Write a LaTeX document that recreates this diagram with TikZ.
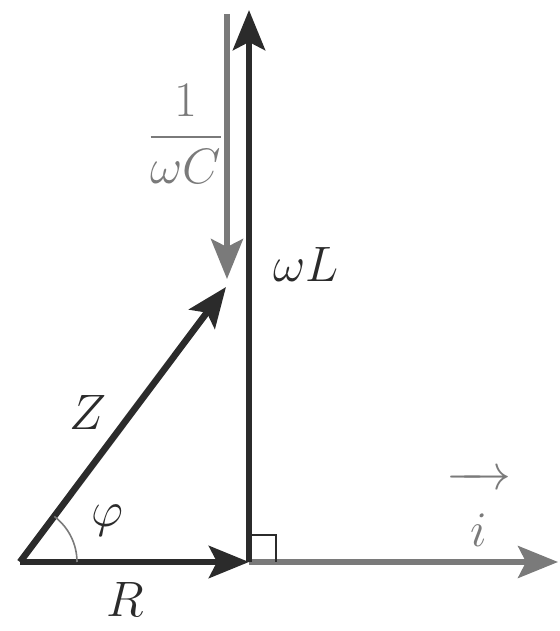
\documentclass[tikz,border=0pt]{standalone}
\usepackage{amsmath}
\usepackage{tikz}
\usetikzlibrary{arrows.meta}
\definecolor{phasorDark}{HTML}{2B2B2B}
\definecolor{phasorGray}{HTML}{7A7A7A}

\begin{document}
\begin{tikzpicture}[x=0.5pt, y=0.5pt,
    phasor/.style={line width=3.3pt, phasorDark,
        -{Stealth[length=20pt, width=16pt, inset=4pt]}},
    gphasor/.style={line width=2.6pt, phasorGray,
        -{Stealth[length=20pt, width=16pt, inset=4pt]}},
    lab/.style={font=\fontsize{30}{36}\selectfont, inner sep=0pt}]
    \useasboundingbox (0,0) rectangle (560,631);
    \coordinate (O) at (20,69);
    \coordinate (M) at (249,69);
    \coordinate (Ltip) at (249,621);
    \coordinate (Ctop) at (227,617);
    \coordinate (Cbot) at (227,352);
    \coordinate (Ztip) at (226,344);
    \coordinate (Itip) at (558,69);
    % current axis and the reactances
    \draw[gphasor] (M) -- (Itip);
    \draw[phasor] (M) -- (Ltip);
    \draw[gphasor] (Ctop) -- (Cbot);
    \draw[phasor] (O) -- (Ztip);
    \draw[phasor] (O) -- (M);
    \draw[phasorDark, line width=1pt] (M) ++(0,27) -| ++(27,-27);
    \draw[phasorGray, line width=0.8pt] (O) ++(57,0) arc[start angle=0, end angle=53, radius=57];
    % labels
    \node[lab, phasorGray] (invC) at (186,497) {$\dfrac{1}{\omega C}$};
    \node[lab, phasorDark] (wL) at (306,366) {$\omega L$};
    \node[lab, phasorDark] (zlab) at (88,218) {$Z$};
    \node[lab, phasorDark] (philab) at (107,110) {$\varphi$};
    \node[lab, phasorDark] (rlab) at (125,32) {$R$};
    \node[lab, phasorGray] (ilab) at (479,122)
        {$\overrightarrow{\rule{0pt}{0.95em}\hspace{0.4em}i\hspace{0.4em}}$};
\end{tikzpicture}
\end{document}
